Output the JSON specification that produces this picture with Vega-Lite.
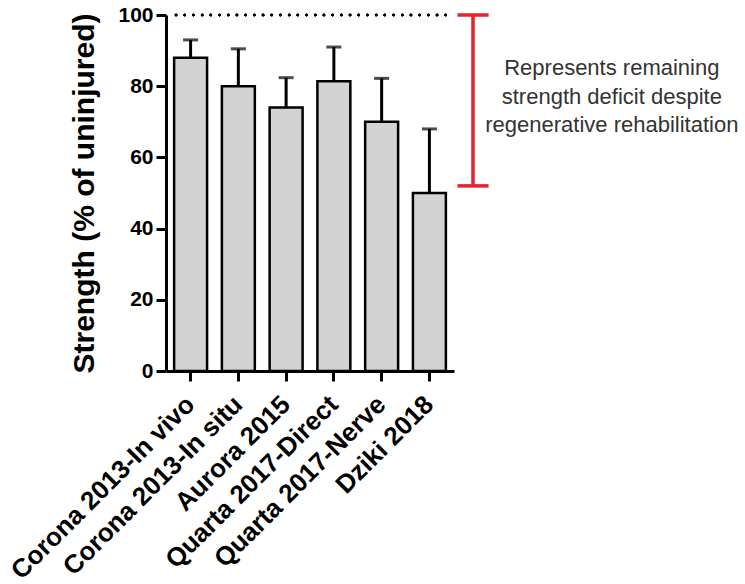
{
  "$schema": "https://vega.github.io/schema/vega-lite/v6.json",
  "autosize": {"type": "none"},
  "padding": {"left": 166, "top": 15, "right": 291, "bottom": 213},
  "width": 288,
  "height": 356,
  "background": "white",
  "config": {
    "view": {"stroke": null},
    "font": "Liberation Sans",
    "axis": {"grid": false}
  },
  "layer": [
    {
      "data": {
        "values": [
          {"study": "Corona 2013-In vivo", "value": 88, "upper": 93},
          {"study": "Corona 2013-In situ", "value": 80, "upper": 90.5},
          {"study": "Aurora 2015", "value": 74, "upper": 82.4},
          {"study": "Quarta 2017-Direct", "value": 81.4, "upper": 91},
          {"study": "Quarta 2017-Nerve", "value": 70, "upper": 82.2},
          {"study": "Dziki 2018", "value": 50, "upper": 68}
        ]
      },
      "encoding": {
        "x": {
          "field": "study",
          "type": "nominal",
          "sort": null,
          "scale": {"paddingInner": 0.31, "paddingOuter": 0.17},
          "axis": {
            "title": null,
            "labelAngle": -45,
            "labelAlign": "right",
            "labelBaseline": "middle",
            "labelFontSize": 26,
            "labelFontWeight": "bold",
            "labelColor": "black",
            "labelPadding": 19,
            "labelLimit": 0,
            "tickSize": 10,
            "tickWidth": 3,
            "tickColor": "black",
            "domainWidth": 3,
            "domainColor": "black"
          }
        }
      },
      "layer": [
        {
          "mark": {"type": "bar", "fill": "#d3d3d3", "stroke": "black", "strokeWidth": 2.5},
          "encoding": {
            "y": {
              "field": "value",
              "type": "quantitative",
              "scale": {"domain": [0, 100], "nice": false},
              "axis": {
                "title": "Strength (% of uninjured)",
                "titleFontSize": 30,
                "titleFontWeight": "bold",
                "titleColor": "black",
                "titlePadding": 18,
                "values": [0, 20, 40, 60, 80, 100],
                "labelFontSize": 21,
                "labelFontWeight": "bold",
                "labelColor": "black",
                "labelPadding": 3,
                "tickSize": 10,
                "tickWidth": 3,
                "tickColor": "black",
                "domainWidth": 3,
                "domainColor": "black"
              }
            }
          }
        },
        {
          "mark": {"type": "rule", "stroke": "black", "strokeWidth": 3},
          "encoding": {
            "y": {"field": "value", "type": "quantitative"},
            "y2": {"field": "upper"}
          }
        },
        {
          "mark": {"type": "tick", "color": "black", "size": 15, "thickness": 3},
          "encoding": {
            "y": {"field": "upper", "type": "quantitative"}
          }
        },
        {
          "mark": {"type": "rule", "stroke": "black", "strokeWidth": 2.5, "strokeDash": [0.1, 8.6], "strokeCap": "round"},
          "encoding": {
            "y": {"datum": 100, "type": "quantitative"},
            "x": {"value": 10},
            "x2": {"value": 282}
          }
        }
      ]
    },
    {
      "data": {
        "values": [
          {"part": "bracket", "x": 1.066, "x2": 1.066, "y": 52, "y2": 100},
          {"part": "captop", "x": 1.012, "x2": 1.12, "y": 100, "y2": 100},
          {"part": "capbottom", "x": 1.012, "x2": 1.12, "y": 52, "y2": 52}
        ]
      },
      "mark": {"type": "rule", "stroke": "#e3242b", "strokeWidth": 3.5},
      "encoding": {
        "x": {"field": "x", "type": "quantitative", "scale": {"domain": [0, 1], "nice": false, "zero": false}, "axis": null},
        "x2": {"field": "x2"},
        "y": {"field": "y", "type": "quantitative", "scale": {"domain": [0, 100], "nice": false}, "axis": null},
        "y2": {"field": "y2"}
      }
    },
    {
      "data": {
        "values": [
          {"label": "Represents remaining|strength deficit despite|regenerative rehabilitation", "x": 1.548, "y": 85.1}
        ]
      },
      "mark": {"type": "text", "lineBreak": "|", "fontSize": 22, "lineHeight": 28.5, "align": "center", "baseline": "middle", "color": "#333333"},
      "encoding": {
        "text": {"field": "label"},
        "x": {"field": "x", "type": "quantitative", "scale": {"domain": [0, 1], "nice": false, "zero": false}, "axis": null},
        "y": {"field": "y", "type": "quantitative", "scale": {"domain": [0, 100], "nice": false}, "axis": null}
      }
    }
  ],
  "resolve": {"scale": {"x": "independent"}, "axis": {"x": "independent", "y": "independent"}}
}
